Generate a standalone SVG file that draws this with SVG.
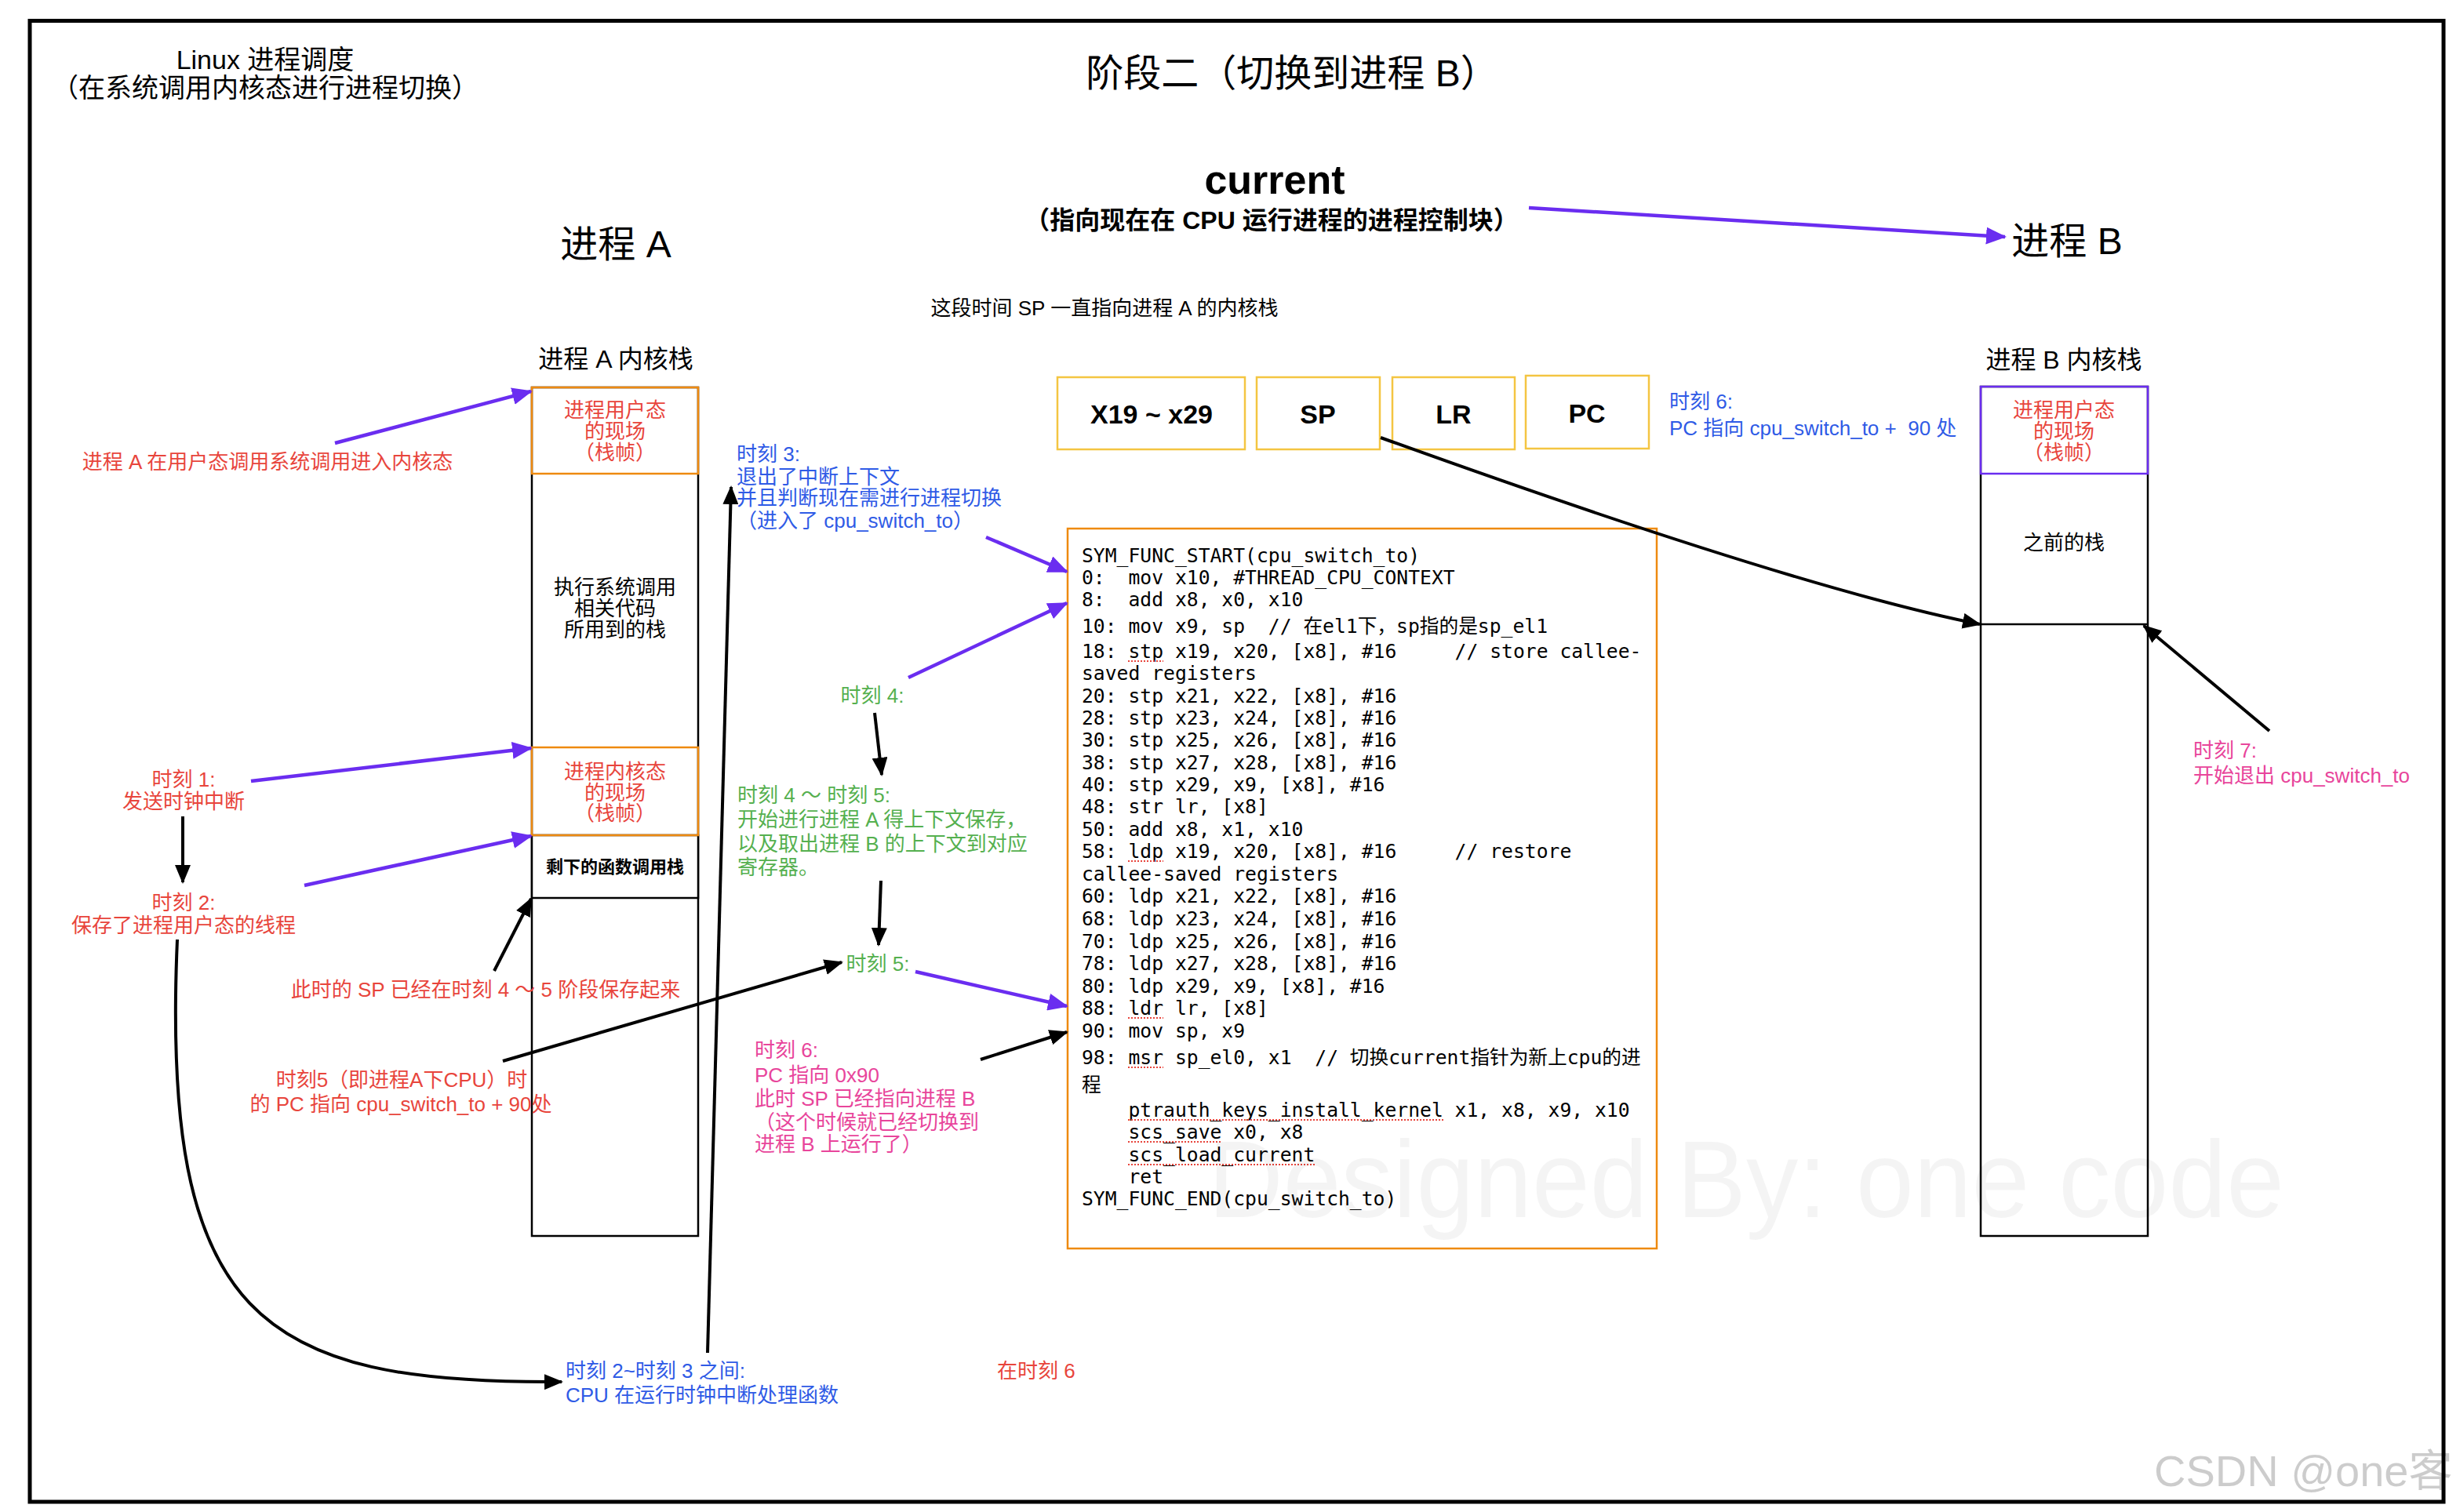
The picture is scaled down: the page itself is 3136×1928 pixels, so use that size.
<svg xmlns="http://www.w3.org/2000/svg" width="3136" height="1928" viewBox="0 0 3136 1928">
<defs>
<style>
text { font-family: "Liberation Sans", "Noto Sans CJK SC", sans-serif; }
.f26 { font-size: 26px; }
.c { text-anchor: middle; }
.red { fill: #E8453C; }
.blue { fill: #2F5BE6; }
.green { fill: #55B04F; }
.pink { fill: #E8459B; }
.blk { fill: #000; }
.code { font-family: "DejaVu Sans Mono", "Noto Sans CJK SC", monospace; font-size: 24.7px; fill: #000; white-space: pre; }
.pa { stroke: #6A2DF0; stroke-width: 4.5; fill: none; marker-end: url(#hp); }
.ba { stroke: #000; stroke-width: 4; fill: none; marker-end: url(#hb); }
.stk { fill: #fff; stroke: #000; stroke-width: 2.5; }
.org { fill: none; stroke: #EE8A10; stroke-width: 2.5; }
.reg { fill: #fff; stroke: #F4C542; stroke-width: 2.5; }
.regt { font-size: 34px; font-weight: bold; text-anchor: middle; fill: #000; }
.sq { stroke: #E8453C; stroke-width: 2; stroke-dasharray: 2 2; }
</style>
<marker id="hp" markerUnits="userSpaceOnUse" markerWidth="26" markerHeight="22" viewBox="0 0 26 22" refX="24" refY="11" orient="auto"><path d="M0,0 L26,11 L0,22 Z" fill="#6A2DF0"/></marker>
<marker id="hb" markerUnits="userSpaceOnUse" markerWidth="24" markerHeight="20" viewBox="0 0 24 20" refX="22" refY="10" orient="auto"><path d="M0,0 L24,10 L0,20 Z" fill="#000"/></marker>
</defs>
<rect width="3136" height="1928" fill="#fff"/>
<rect id="frame" x="38" y="26.5" width="3077" height="1888.5" fill="none" stroke="#000" stroke-width="5"/>

<g id="title">
<text class="c" x="338" y="88" font-size="34">Linux 进程调度</text>
<text class="c" x="338" y="124" font-size="34">（在系统调用内核态进行进程切换）</text>
</g>
<g id="stage">
<text class="c" x="1647" y="110" font-size="48">阶段二（切换到进程 B）</text>
</g>
<g id="current">
<text class="c" x="1625" y="247" font-size="52" font-weight="bold">current</text>
<text class="c" x="1621" y="292" font-size="32" font-weight="bold">（指向现在在 CPU 运行进程的进程控制块）</text>
</g>
<g id="procA"><text class="c" x="785" y="328" font-size="48">进程 A</text></g>
<g id="procB"><text class="c" x="2635" y="324" font-size="48">进程 B</text></g>
<g id="spNote"><text class="c f26" x="1408" y="402">这段时间 SP 一直指向进程 A 的内核栈</text></g>

<g id="stackA">
<text class="c" x="785" y="469" font-size="32">进程 A 内核栈</text>
<rect class="stk" x="678" y="494" width="212" height="1082"/>
<rect class="stk" x="678" y="1065" width="212" height="80"/>
<rect class="org" x="678" y="494" width="212" height="110"/>
<rect class="org" x="678" y="953" width="212" height="112"/>
<text class="c f26 red" x="784" y="532">进程用户态</text>
<text class="c f26 red" x="784" y="559">的现场</text>
<text class="c f26 red" x="784" y="586">（栈帧）</text>
<text class="c f26 blk" x="784" y="758">执行系统调用</text>
<text class="c f26 blk" x="784" y="785">相关代码</text>
<text class="c f26 blk" x="784" y="812">所用到的栈</text>
<text class="c f26 red" x="784" y="993">进程内核态</text>
<text class="c f26 red" x="784" y="1020">的现场</text>
<text class="c f26 red" x="784" y="1046">（栈帧）</text>
<text class="c blk" x="784" y="1113" font-size="22" font-weight="bold">剩下的函数调用栈</text>
</g>

<g id="stackB">
<text class="c" x="2631" y="470" font-size="32">进程 B 内核栈</text>
<rect class="stk" x="2525" y="493" width="213" height="1083"/>
<line x1="2525" y1="796" x2="2738" y2="796" stroke="#000" stroke-width="2.5"/>
<rect x="2525" y="493" width="213" height="111" fill="none" stroke="#6A2DF0" stroke-width="2.5"/>
<text class="c f26 red" x="2631" y="532">进程用户态</text>
<text class="c f26 red" x="2631" y="559">的现场</text>
<text class="c f26 red" x="2631" y="586">（栈帧）</text>
<text class="c f26 blk" x="2631" y="701">之前的栈</text>
</g>

<g id="regX">
<rect class="reg" x="1348" y="481" width="239" height="92"/>
<text class="regt" x="1468" y="540">X19 ~ x29</text>
</g>
<g id="regSP">
<rect class="reg" x="1602" y="481" width="157" height="92"/>
<text class="regt" x="1680" y="540">SP</text>
</g>
<g id="regLR">
<rect class="reg" x="1775" y="481" width="156" height="92"/>
<text class="regt" x="1853" y="540">LR</text>
</g>
<g id="regPC">
<rect class="reg" x="1945" y="479" width="157" height="93"/>
<text class="regt" x="2023" y="539">PC</text>
</g>

<g id="code">
<rect x="1361" y="674" width="751" height="918" fill="none" stroke="#EE8A10" stroke-width="2.5"/>
<text class="code" xml:space="preserve" x="1379" y="717">SYM_FUNC_START(cpu_switch_to)</text>
<text class="code" xml:space="preserve" x="1379" y="745">0:  mov x10, #THREAD_CPU_CONTEXT</text>
<text class="code" xml:space="preserve" x="1379" y="773">8:  add x8, x0, x10</text>
<text class="code" xml:space="preserve" x="1379" y="807">10: mov x9, sp  // 在el1下，sp指的是sp_el1</text>
<text class="code" xml:space="preserve" x="1379" y="839">18: stp x19, x20, [x8], #16     // store callee-</text>
<text class="code" xml:space="preserve" x="1379" y="867">saved registers</text>
<text class="code" xml:space="preserve" x="1379" y="896">20: stp x21, x22, [x8], #16</text>
<text class="code" xml:space="preserve" x="1379" y="924">28: stp x23, x24, [x8], #16</text>
<text class="code" xml:space="preserve" x="1379" y="952">30: stp x25, x26, [x8], #16</text>
<text class="code" xml:space="preserve" x="1379" y="981">38: stp x27, x28, [x8], #16</text>
<text class="code" xml:space="preserve" x="1379" y="1009">40: stp x29, x9, [x8], #16</text>
<text class="code" xml:space="preserve" x="1379" y="1037">48: str lr, [x8]</text>
<text class="code" xml:space="preserve" x="1379" y="1066">50: add x8, x1, x10</text>
<text class="code" xml:space="preserve" x="1379" y="1094">58: ldp x19, x20, [x8], #16     // restore</text>
<text class="code" xml:space="preserve" x="1379" y="1123">callee-saved registers</text>
<text class="code" xml:space="preserve" x="1379" y="1151">60: ldp x21, x22, [x8], #16</text>
<text class="code" xml:space="preserve" x="1379" y="1180">68: ldp x23, x24, [x8], #16</text>
<text class="code" xml:space="preserve" x="1379" y="1209">70: ldp x25, x26, [x8], #16</text>
<text class="code" xml:space="preserve" x="1379" y="1237">78: ldp x27, x28, [x8], #16</text>
<text class="code" xml:space="preserve" x="1379" y="1266">80: ldp x29, x9, [x8], #16</text>
<text class="code" xml:space="preserve" x="1379" y="1294">88: ldr lr, [x8]</text>
<text class="code" xml:space="preserve" x="1379" y="1323">90: mov sp, x9</text>
<text class="code" xml:space="preserve" x="1379" y="1357">98: msr sp_el0, x1  // 切换current指针为新上cpu的进</text>
<text class="code" xml:space="preserve" x="1379" y="1392">程</text>
<text class="code" xml:space="preserve" x="1379" y="1424">    ptrauth_keys_install_kernel x1, x8, x9, x10</text>
<text class="code" xml:space="preserve" x="1379" y="1452">    scs_save x0, x8</text>
<text class="code" xml:space="preserve" x="1379" y="1481">    scs_load_current</text>
<text class="code" xml:space="preserve" x="1379" y="1509">    ret</text>
<text class="code" xml:space="preserve" x="1379" y="1537">SYM_FUNC_END(cpu_switch_to)</text>
<line class="sq" x1="1438" y1="843" x2="1483" y2="843"/>
<line class="sq" x1="1438" y1="1098" x2="1483" y2="1098"/>
<line class="sq" x1="1438" y1="1298" x2="1483" y2="1298"/>
<line class="sq" x1="1438" y1="1361" x2="1483" y2="1361"/>
<line class="sq" x1="1438" y1="1428" x2="1840" y2="1428"/>
<line class="sq" x1="1438" y1="1456" x2="1557" y2="1456"/>
<line class="sq" x1="1438" y1="1485" x2="1677" y2="1485"/>
</g>

<g id="noteEnter"><text class="c f26 red" x="341" y="598">进程 A 在用户态调用系统调用进入内核态</text></g>
<g id="t1">
<text class="c f26 red" x="234" y="1003">时刻 1:</text>
<text class="c f26 red" x="234" y="1031">发送时钟中断</text>
</g>
<g id="t2">
<text class="c f26 red" x="234" y="1160">时刻 2:</text>
<text class="c f26 red" x="234" y="1189">保存了进程用户态的线程</text>
</g>
<g id="spSaved"><text class="c f26 red" x="619" y="1271">此时的 SP 已经在时刻 4 ～ 5 阶段保存起来</text></g>
<g id="t5A">
<text class="c f26 red" x="512" y="1386">时刻5（即进程A下CPU）时</text>
<text class="c f26 red" x="511" y="1417">的 PC 指向 cpu_switch_to + 90处</text>
</g>
<g id="t23">
<text class="f26 blue" x="721" y="1757">时刻 2~时刻 3 之间:</text>
<text class="f26 blue" x="721" y="1788">CPU 在运行时钟中断处理函数</text>
</g>
<g id="at6"><text class="f26 red" x="1271" y="1757">在时刻 6</text></g>
<g id="t3">
<text class="f26 blue" x="939" y="588">时刻 3:</text>
<text class="f26 blue" x="939" y="617">退出了中断上下文</text>
<text class="f26 blue" x="939" y="644">并且判断现在需进行进程切换</text>
<text class="f26 blue" x="939" y="673">（进入了 cpu_switch_to）</text>
</g>
<g id="t4"><text class="c f26 green" x="1112" y="896">时刻 4:</text></g>
<g id="t45">
<text class="f26 green" x="940" y="1023">时刻 4 ～ 时刻 5:</text>
<text class="f26 green" x="940" y="1054">开始进行进程 A 得上下文保存，</text>
<text class="f26 green" x="940" y="1085">以及取出进程 B 的上下文到对应</text>
<text class="f26 green" x="940" y="1115">寄存器。</text>
</g>
<g id="t5"><text class="c f26 green" x="1119" y="1238">时刻 5:</text></g>
<g id="t6">
<text class="f26 pink" x="962" y="1348">时刻 6:</text>
<text class="f26 pink" x="962" y="1380">PC 指向 0x90</text>
<text class="f26 pink" x="962" y="1410">此时 SP 已经指向进程 B</text>
<text class="f26 pink" x="962" y="1440">（这个时候就已经切换到</text>
<text class="f26 pink" x="962" y="1468">进程 B 上运行了）</text>
</g>
<g id="t6pc">
<text class="f26 blue" x="2128" y="521">时刻 6:</text>
<text class="f26 blue" x="2128" y="555" xml:space="preserve">PC 指向 cpu_switch_to +  90 处</text>
</g>
<g id="t7">
<text class="f26 pink" x="2796" y="966">时刻 7:</text>
<text class="f26 pink" x="2796" y="998">开始退出 cpu_switch_to</text>
</g>

<g id="connectors">
<line class="pa" x1="427" y1="565" x2="677" y2="499"/>
<line class="pa" x1="320" y1="996" x2="677" y2="954"/>
<line class="pa" x1="388" y1="1129" x2="677" y2="1066"/>
<line class="pa" x1="1949" y1="265" x2="2556" y2="302"/>
<line class="pa" x1="1257" y1="685" x2="1360" y2="729"/>
<line class="pa" x1="1158" y1="864" x2="1360" y2="769"/>
<line class="pa" x1="1167" y1="1239" x2="1360" y2="1283"/>
<line class="ba" x1="233" y1="1041" x2="233" y2="1125"/>
<path class="ba" d="M226,1198 C205,1680 330,1765 716,1762"/>
<line class="ba" x1="902" y1="1725" x2="932" y2="621"/>
<line class="ba" x1="1115" y1="909" x2="1124" y2="988"/>
<line class="ba" x1="1123" y1="1123" x2="1120" y2="1205"/>
<line class="ba" x1="641" y1="1353" x2="1073" y2="1227"/>
<line class="ba" x1="630" y1="1238" x2="677" y2="1146"/>
<line class="ba" x1="1250" y1="1351" x2="1360" y2="1316"/>
<path class="ba" d="M1760,558 Q2292,750 2524,796"/>
<line class="ba" x1="2893" y1="932" x2="2733" y2="798"/>
</g>

<g id="watermarks">
<text x="1540" y="1552" font-size="140" fill="#000" fill-opacity="0.045" textLength="1372" lengthAdjust="spacingAndGlyphs">Designed By: one code</text>
<text x="2746" y="1895" font-size="56" fill="#000" fill-opacity="0.2">CSDN @one客</text>
</g>
</svg>
